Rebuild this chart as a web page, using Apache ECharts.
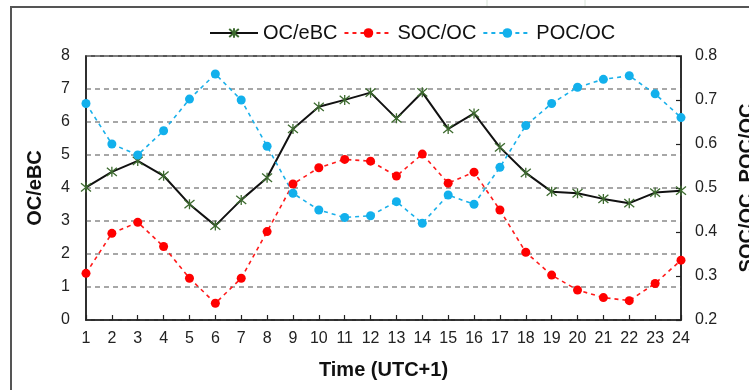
<!DOCTYPE html>
<html>
<head>
<meta charset="utf-8">
<script src="https://cdn.jsdelivr.net/npm/echarts@6/dist/echarts.min.js"></script>
<style>
  html, body { margin: 0; padding: 0; background: #fff; }
  #chart { width: 749px; height: 390px; }
</style>
</head>
<body>
<div id="chart"></div>
<script>
// hours of the day (x categories)
var hours = ['1','2','3','4','5','6','7','8','9','10','11','12','13','14','15','16','17','18','19','20','21','22','23','24'];

// left axis
var ocEbc = [4.02, 4.49, 4.82, 4.37, 3.51, 2.86, 3.64, 4.31, 5.79, 6.46, 6.67, 6.89,
             6.11, 6.90, 5.79, 6.26, 5.23, 4.46, 3.89, 3.84, 3.67, 3.54, 3.86, 3.92];

// right axis
var socOc = [0.306, 0.397, 0.422, 0.367, 0.295, 0.238, 0.295, 0.401, 0.509, 0.546, 0.565, 0.561,
             0.527, 0.577, 0.511, 0.536, 0.450, 0.354, 0.302, 0.268, 0.251, 0.244, 0.283, 0.336];
var pocOc = [0.692, 0.600, 0.575, 0.630, 0.702, 0.759, 0.700, 0.595, 0.488, 0.450, 0.433, 0.437,
             0.469, 0.420, 0.484, 0.463, 0.547, 0.642, 0.692, 0.729, 0.747, 0.755, 0.714, 0.660];

var font = 'Liberation Sans, Arial, sans-serif';
// excel-like asterisk marker
var starPath = 'path://M0,0L10,10M10,0L0,10M5,-1L5,11';

var chart = echarts.init(document.getElementById('chart'));

var option = {
    animation: false,
    textStyle: { fontFamily: font },
    graphic: [
        {
            type: 'rect',
            shape: { x: 11, y: 7, width: 800, height: 420 },
            style: { fill: 'none', stroke: '#555', lineWidth: 2 }
        },
        {
            type: 'line',
            shape: { x1: 487, y1: 0, x2: 487, y2: 6 },
            style: { stroke: '#d8e4d8', lineWidth: 1 }
        },
        {
            type: 'line',
            shape: { x1: 585, y1: 0, x2: 585, y2: 6 },
            style: { stroke: '#d8e4d8', lineWidth: 1 }
        }
    ],
    legend: {
        top: 18,
        left: 204,
        itemWidth: 48,
        itemHeight: 12,
        itemGap: 6,
        textStyle: { fontSize: 20, color: '#111', fontFamily: font },
        data: ['OC/eBC', 'SOC/OC', 'POC/OC']
    },
    grid: {
        left: 86,
        right: 68,
        top: 56,
        bottom: 70,
        outerBoundsMode: 'none',
        show: true,
        borderColor: '#222',
        borderWidth: 1.5
    },
    xAxis: {
        type: 'category',
        data: hours,
        boundaryGap: false,
        name: 'Time (UTC+1)',
        nameLocation: 'middle',
        nameGap: 40,
        nameTextStyle: { fontSize: 20, fontWeight: 'bold', color: '#111' },
        axisLine: { lineStyle: { color: '#222', width: 1.5 } },
        axisTick: { inside: true, length: 5, lineStyle: { color: '#222', width: 1.2 } },
        axisLabel: { fontSize: 16, color: '#222', margin: 11, interval: 0 }
    },
    yAxis: [
        {
            type: 'value',
            min: 0,
            max: 8,
            interval: 1,
            name: 'OC/eBC',
            nameLocation: 'middle',
            nameGap: 41,
            nameRotate: 90,
            nameTextStyle: { fontSize: 20, fontWeight: 'bold', color: '#111' },
            axisLine: { show: true, lineStyle: { color: '#222', width: 1.5 } },
            axisTick: { show: false },
            axisLabel: { fontSize: 16, color: '#222', margin: 16 },
            splitLine: { lineStyle: { color: '#8a8a8a', type: [5, 4], width: 1.5 } }
        },
        {
            type: 'value',
            position: 'right',
            min: 0.2,
            max: 0.8,
            interval: 0.1,
            name: 'SOC/OC, POC/OC',
            nameLocation: 'middle',
            nameGap: 56,
            nameRotate: 90,
            nameTextStyle: { fontSize: 20, fontWeight: 'bold', color: '#111' },
            axisLine: { show: true, lineStyle: { color: '#222', width: 1.5 } },
            axisTick: { show: true, inside: true, length: 5, lineStyle: { color: '#222', width: 1.2 } },
            axisLabel: {
                fontSize: 16,
                color: '#222',
                margin: 14,
                formatter: function(v) { return v.toFixed(1); }
            },
            splitLine: { show: false }
        }
    ],
    series: [
        {
            name: 'OC/eBC',
            type: 'line',
            yAxisIndex: 0,
            data: ocEbc,
            symbol: starPath,
            symbolSize: 10,
            z: 3,
            lineStyle: { color: '#111', width: 2 },
            itemStyle: { color: 'rgba(0,0,0,0)', borderColor: '#3d6b2f', borderWidth: 1.3 }
        },
        {
            name: 'SOC/OC',
            type: 'line',
            yAxisIndex: 1,
            data: socOc,
            symbol: 'circle',
            symbolSize: 9,
            lineStyle: { color: '#ff1a1a', width: 1.6, type: [4, 4] },
            itemStyle: { color: '#ff0000' }
        },
        {
            name: 'POC/OC',
            type: 'line',
            yAxisIndex: 1,
            data: pocOc,
            symbol: 'circle',
            symbolSize: 9,
            lineStyle: { color: '#1ab0ea', width: 1.6, type: [4, 4] },
            itemStyle: { color: '#12b0ec' }
        }
    ]
};

chart.setOption(option);
</script>
</body>
</html>
